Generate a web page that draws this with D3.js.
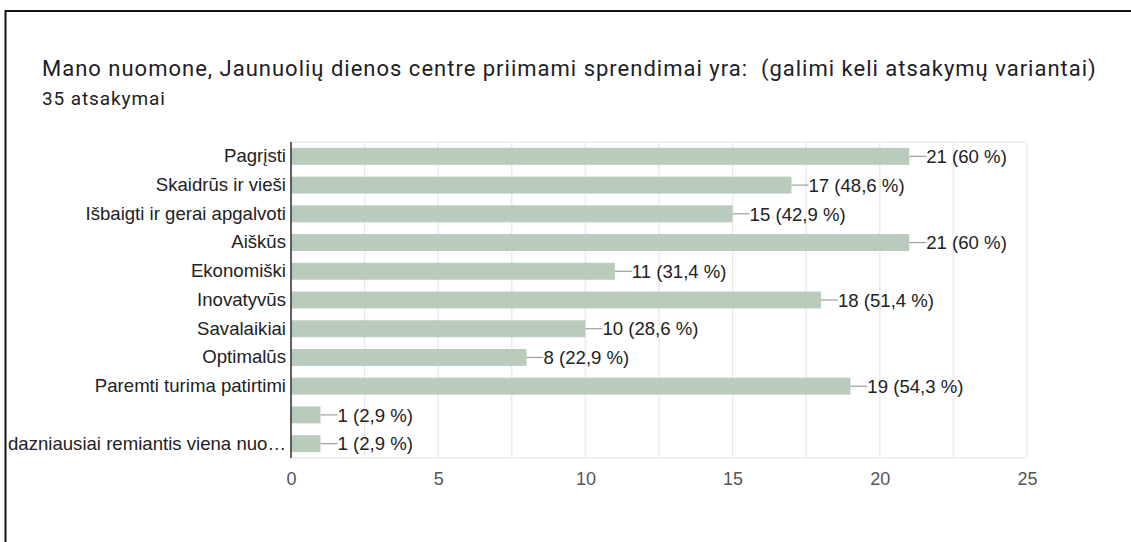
<!DOCTYPE html>
<html>
<head>
<meta charset="utf-8">
<script src="https://cdn.jsdelivr.net/npm/d3@7/dist/d3.min.js"></script>
<style>
  html, body { margin: 0; padding: 0; background: #fff; }
  svg { display: block; }
</style>
</head>
<body>
<svg id="chart" width="1131" height="542"></svg>
<script>
const title = "Mano nuomone, Jaunuolių dienos centre priimami sprendimai yra:  (galimi keli atsakymų variantai)";
const subtitle = "35 atsakymai";
const categories = [
  "Pagrįsti",
  "Skaidrūs ir vieši",
  "Išbaigti ir gerai apgalvoti",
  "Aiškūs",
  "Ekonomiški",
  "Inovatyvūs",
  "Savalaikiai",
  "Optimalūs",
  "Paremti turima patirtimi",
  "",
  "dazniausiai remiantis viena nuo…"
];
const counts = [21, 17, 15, 21, 11, 18, 10, 8, 19, 1, 1];
const percents = ["60", "48,6", "42,9", "60", "31,4", "51,4", "28,6", "22,9", "54,3", "2,9", "2,9"];
const xTicks = [0, 5, 10, 15, 20, 25];
const gridValues = [0, 2.5, 5, 7.5, 10, 12.5, 15, 17.5, 20, 22.5, 25];

const svg = d3.select("#chart");

// outer frame
svg.append("rect")
  .attr("x", 5.5).attr("y", 11)
  .attr("width", 1300).attr("height", 700)
  .attr("fill", "none").attr("stroke", "#111").attr("stroke-width", 2);

svg.append("text")
  .attr("x", 42).attr("y", 76)
  .style("white-space", "pre")
  .attr("font-family", "Roboto, 'Noto Sans', sans-serif")
  .attr("font-size", 22)
  .attr("letter-spacing", 1)
  .attr("fill", "#202124")
  .text(title);

svg.append("text")
  .attr("x", 42).attr("y", 105)
  .attr("font-family", "Roboto, 'Noto Sans', sans-serif")
  .attr("font-size", 19)
  .attr("letter-spacing", 0.9)
  .attr("fill", "#202124")
  .text(subtitle);

const plot = { left: 291, right: 1027, top: 142, bottom: 458 };

const x = d3.scaleLinear().domain([0, 25]).range([plot.left, plot.right]);
const y = d3.scaleBand()
  .domain(d3.range(categories.length))
  .range([plot.top, plot.bottom])
  .paddingInner(0.41)
  .paddingOuter(0.205);

const font = "'Liberation Sans', Arial, sans-serif";

// gridlines
svg.append("g").selectAll("line")
  .data(gridValues)
  .join("line")
  .attr("x1", d => x(d)).attr("x2", d => x(d))
  .attr("y1", plot.top).attr("y2", plot.bottom)
  .attr("stroke", "#ebebeb").attr("stroke-width", 1.5);

// top and bottom frame lines
svg.append("line")
  .attr("x1", plot.left).attr("x2", plot.right)
  .attr("y1", plot.top).attr("y2", plot.top)
  .attr("stroke", "#ebebeb").attr("stroke-width", 1.5);
svg.append("line")
  .attr("x1", plot.left).attr("x2", plot.right)
  .attr("y1", plot.bottom).attr("y2", plot.bottom)
  .attr("stroke", "#ebebeb").attr("stroke-width", 1.5);

// bars
const rows = svg.append("g").selectAll("g")
  .data(counts)
  .join("g");

rows.append("rect")
  .attr("x", x(0))
  .attr("y", (d, i) => y(i))
  .attr("width", d => x(d) - x(0))
  .attr("height", y.bandwidth())
  .attr("fill", "#b8cbbd");

rows.append("line")
  .attr("x1", d => x(d))
  .attr("x2", d => x(d) + 17)
  .attr("y1", (d, i) => y(i) + y.bandwidth() / 2)
  .attr("y2", (d, i) => y(i) + y.bandwidth() / 2)
  .attr("stroke", "#9e9e9e").attr("stroke-width", 1.2);

rows.append("text")
  .attr("x", d => x(d) + 17)
  .attr("y", (d, i) => y(i) + y.bandwidth() / 2)
  .attr("dy", "0.36em")
  .attr("font-family", font)
  .attr("font-size", 18.6)
  .attr("fill", "#222")
  .text((d, i) => `${d} (${percents[i]} %)`);

// y axis
const yAxis = d3.axisLeft(y)
  .tickSize(0)
  .tickPadding(5)
  .tickFormat(i => categories[i]);
const gy = svg.append("g")
  .attr("transform", `translate(${plot.left},0)`)
  .call(yAxis);
gy.select(".domain").remove();
gy.selectAll("text")
  .attr("font-family", font)
  .attr("font-size", 18.6)
  .attr("fill", "#222");
svg.append("line")
  .attr("x1", plot.left).attr("x2", plot.left)
  .attr("y1", plot.top).attr("y2", plot.bottom)
  .attr("stroke", "#333").attr("stroke-width", 1.5);

// x axis
const xAxis = d3.axisBottom(x)
  .tickValues(xTicks)
  .tickSize(0)
  .tickPadding(14)
  .tickFormat(d3.format("d"));
const gx = svg.append("g")
  .attr("transform", `translate(0,${plot.bottom})`)
  .call(xAxis);
gx.select(".domain").remove();
gx.selectAll("text")
  .attr("font-family", font)
  .attr("font-size", 18)
  .attr("fill", "#555");
</script>
</body>
</html>
